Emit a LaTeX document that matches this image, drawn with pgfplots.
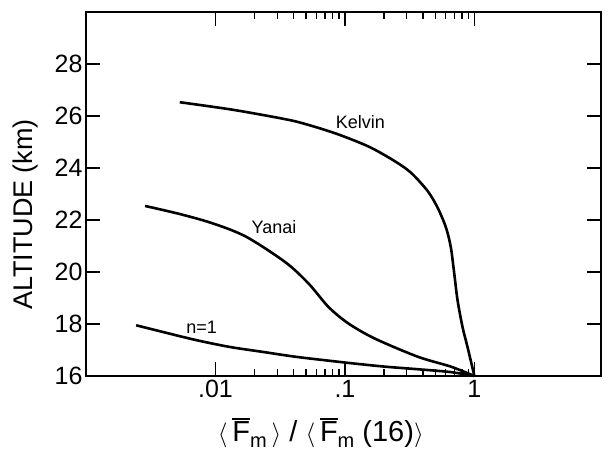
\documentclass[border=0pt]{standalone}
\usepackage{fontspec}
\setmainfont{Liberation Sans}
\usepackage{pgfplots}
\pgfplotsset{compat=1.18}
\newcommand\Fbar{\vbox{\hrule height 1.6pt\kern2pt\hbox{F}}}
\newcommand\subm{\lower6pt\hbox{\fontsize{20}{22}\selectfont m}}
\begin{document}
\begin{tikzpicture}
\begin{axis}[
  at={(0,0)}, anchor=south west,
  scale only axis, width=515pt, height=364pt,
  xmode=log, xmin=0.001, xmax=9.5,
  ymin=16, ymax=30,
  xtick={0.01,0.1,1}, xticklabels={.01,.1,1},
  ytick={16,18,20,22,24,26,28},
  /pgf/number format/assume math mode=true,
  tick align=inside,
  major tick length=14pt, minor tick length=7pt,
  every tick/.style={line width=1.4pt, black},
  axis line style={line width=1.6pt},
  ticklabel style={font=\fontsize{25}{28}\selectfont},
  xticklabel style={yshift=-1pt},
  clip=false,
  xlabel={$\langle$\,\Fbar\subm\,$\rangle$ / $\langle$\,\Fbar\subm\ (16)$\rangle$},
  xlabel style={at={(axis description cs:0.456,-0.157)}, anchor=center, font=\fontsize{29}{33}\selectfont},
  ylabel={ALTITUDE (km)},
  ylabel style={at={(axis description cs:-0.1165,0.445)}, anchor=center, rotate=0, font=\fontsize{27}{30}\selectfont},
]
\addplot[black, line width=2.6pt, smooth, tension=0.5] coordinates {
(0.0053,26.53) (0.0136,26.24) (0.0328,25.90) (0.0472,25.72) (0.0846,25.33)
(0.153,24.82) (0.243,24.26) (0.325,23.81) (0.436,23.11) (0.520,22.47)
(0.603,21.71) (0.658,20.94) (0.699,19.93) (0.741,18.91) (0.809,17.89)
(0.884,17.12) (1.0,16.0)};
\addplot[black, line width=2.6pt, smooth, tension=0.5] coordinates {
(0.00286,22.54) (0.0053,22.23) (0.00953,21.87) (0.0172,21.36)
(0.0348,20.37) (0.0525,19.55) (0.0748,18.65) (0.1064,18.02) (0.170,17.44)
(0.366,16.74) (0.658,16.36) (1.0,16.0)};
\addplot[black, line width=2.6pt, smooth, tension=0.5] coordinates {
(0.00244,17.95) (0.00395,17.69) (0.00711,17.38) (0.0128,17.12) (0.0230,16.93)
(0.0415,16.74) (0.0748,16.59) (0.1127,16.49) (0.203,16.36) (0.366,16.26)
(0.658,16.15) (1.0,16.0)};
\node[font=\fontsize{18}{20}\selectfont] at (axis cs:0.1315,25.75) {Kelvin};
\node[font=\fontsize{18}{20}\selectfont] at (axis cs:0.0283,21.74) {Yanai};
\node[font=\fontsize{18}{20}\selectfont] at (axis cs:0.00781,17.87) {n=1};
\end{axis}
\path[use as bounding box] (-86pt,-76pt) rectangle (523pt,376pt);
\end{tikzpicture}
\end{document}
